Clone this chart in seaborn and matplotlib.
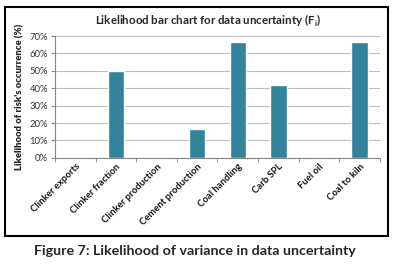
import matplotlib
matplotlib.use("Agg")
import matplotlib.pyplot as plt
import seaborn as sns
import pandas as pd
import numpy as np
from matplotlib.patches import Rectangle
from matplotlib.ticker import PercentFormatter, MultipleLocator

categories = ["Clinker exports", "Clinker fraction", "Clinker production",
              "Cement production", "Coal handling", "Carb SPL", "Fuel oil", "Coal to kiln"]
likelihood = [0, 50, 0, 16.7, 66.7, 41.7, 0, 66.7]

sns.set_style("white")
plt.rcParams['font.family'] = ['Lato', 'DejaVu Sans']

df = pd.DataFrame({'risk': categories, 'likelihood': likelihood})

fig = plt.figure(figsize=(4.02, 2.69), dpi=100)
ax = fig.add_axes([0.137, 0.413, 0.808, 0.453])

sns.barplot(data=df, x='risk', y='likelihood', color='#31849B', width=0.4,
            saturation=1, ax=ax, zorder=3)

ax.set_ylim(0, 70)
ax.set_xlim(-0.5, len(categories) - 0.5)
ax.yaxis.set_major_locator(MultipleLocator(10))
ax.yaxis.set_major_formatter(PercentFormatter(decimals=0))
ax.grid(axis='y', color='#bfbfbf', linewidth=0.8, zorder=0)

for s in ['top', 'right']:
    ax.spines[s].set_visible(False)
for s in ['left', 'bottom']:
    ax.spines[s].set_color('#868686')
    ax.spines[s].set_linewidth(0.8)

ax.set_xticks(range(len(categories)))
ax.set_xticklabels(categories, rotation=45, ha='right', rotation_mode='anchor',
                   fontsize=6.8, fontweight='bold', color='#111111')
ax.set_xticks(np.arange(-0.5, len(categories), 1), minor=True)
ax.tick_params(axis='x', which='major', length=0, pad=3)
ax.tick_params(axis='x', which='minor', length=3, color='#868686', bottom=True)
ax.tick_params(axis='y', labelsize=6.8, length=3, color='#868686', left=True,
               labelcolor='#333333', pad=2)

ax.set_xlabel('')
ax.set_ylabel("Likelihood of risk's occurrence (%)", fontsize=6.8, fontweight='heavy',
              labelpad=4)
ax.set_title("Likelihood bar chart for data uncertainty (F$_\\mathregular{i}$)",
             fontsize=8.3, fontweight='bold', pad=8, x=0.47)

fig.patches.append(Rectangle((5 / 402, 1 - 236 / 269), 383 / 402, 229 / 269,
                             transform=fig.transFigure, fill=False,
                             edgecolor='black', linewidth=1.5))

fig.text(0.485, 1 - 251 / 269, "Figure 7: Likelihood of variance in data uncertainty",
         ha='center', va='center', fontsize=10.3, fontweight='bold')

fig.savefig('out.png', dpi=100)
